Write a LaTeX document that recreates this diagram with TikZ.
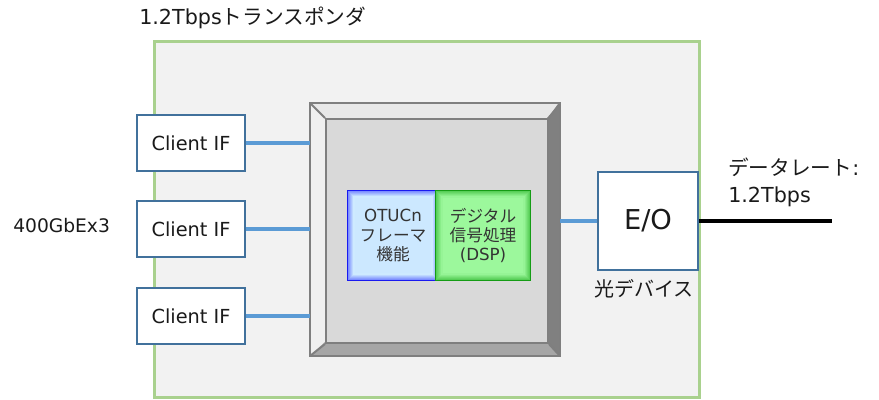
\documentclass[tikz,border=0pt]{standalone}
\usepackage{fontspec}
\setmainfont{DejaVu Sans}
\newfontfamily\jp{Noto Sans CJK JP}
\usetikzlibrary{calc}
\definecolor{frameGreen}{HTML}{A9D18E}
\definecolor{frameFill}{HTML}{F2F2F2}
\definecolor{ifBlue}{HTML}{41719C}
\definecolor{linkBlue}{HTML}{5B9BD5}
\definecolor{chipEdge}{HTML}{7F7F7F}
\definecolor{framerFill}{HTML}{CCE8FF}
\definecolor{framerEdge}{HTML}{1A1AF0}
\definecolor{dspFill}{HTML}{9CF89C}
\definecolor{dspEdge}{HTML}{159C15}
\definecolor{inkGrey}{HTML}{1A1A1A}

\begin{document}
\begin{tikzpicture}[x=0.75pt, y=-0.75pt, every node/.style={font=\fontsize{14.5}{17}\selectfont, text=inkGrey, inner sep=0pt}]
  \useasboundingbox (0,0) rectangle (879,400);
  \tikzset{
    ifbox/.style={draw=ifBlue, line width=2pt, fill=white, minimum width=81pt, minimum height=42pt},
    link/.style={draw=linkBlue, line width=2.5pt},
    bevel/.style={draw=chipEdge, line width=1.5pt, line join=miter},
    funcbox/.style={line width=1.5pt, minimum height=66.75pt, align=center, text=black!80, font=\fontsize{12.5}{14.6}\selectfont},
  }
  % transponder frame
  \node[draw=frameGreen, line width=2pt, fill=frameFill, minimum width=409pt, minimum height=267pt, anchor=north west] (xpdr) at (153,40) {};
  \node[anchor=west, font=\fontsize{15.5}{18}\selectfont] (xpdrTitle) at (139,18) {1.2Tbps{\jp トランスポンダ}};
  \node[anchor=west, font=\fontsize{14}{16}\selectfont] (clientRate) at (13,226) {400GbEx3};
  % client interfaces
  \node[ifbox] (clientA) at (191,143) {Client IF};
  \node[ifbox] (clientB) at (191,229) {Client IF};
  \node[ifbox] (clientC) at (191,316) {Client IF};
  % chip with bevel
  \coordinate (chipNW) at (310,103);
  \coordinate (chipSE) at (560,356);
  \fill[black!9] (310,103) -- (560,103) -- (547,118) -- (325,118) -- cycle;
  \fill[black!6] (310,103) -- (325,118) -- (325,342) -- (310,356) -- cycle;
  \fill[black!50] (560,103) -- (560,356) -- (547,342) -- (547,118) -- cycle;
  \fill[black!35] (310,356) -- (560,356) -- (547,342) -- (325,342) -- cycle;
  \node[bevel, fill=black!15, minimum width=166.5pt, minimum height=168pt, anchor=north west] (chipFace) at (325,118) {};
  \draw[bevel] (chipNW) rectangle (chipSE);
  \draw[bevel] (chipNW) -- (chipFace.north west);
  \draw[bevel] (560,103) -- (chipFace.north east);
  \draw[bevel] (310,356) -- (chipFace.south west);
  \draw[bevel] (560,356) -- (chipFace.south east);
  % functions inside the chip (soft inner glow at the edges)
  \node[funcbox, draw=framerEdge, fill=framerFill, minimum width=67.5pt] (framer) at (393,235.5) {OTUCn\\{\jp フレーマ}\\{\jp 機能}};
  \foreach \d in {2,...,7} {
    \pgfmathsetmacro\mix{55-8*\d}
    \draw[blue!\mix!framerFill, line width=0.8pt] ($(framer.north west)+(\d,\d)$) rectangle ($(framer.south east)+(-\d,-\d)$);
  }
  \node[funcbox, draw=dspEdge, fill=dspFill, minimum width=70.5pt] (dsp) at (483,235.5) {{\jp デジタル}\\{\jp 信号処理}\\(DSP)};
  \foreach \d in {2,...,7} {
    \pgfmathsetmacro\mix{60-8*\d}
    \draw[green!60!black!\mix!dspFill, line width=0.8pt] ($(dsp.north west)+(\d,\d)$) rectangle ($(dsp.south east)+(-\d,-\d)$);
  }
  % electro-optical device
  \node[draw=ifBlue, line width=2pt, fill=white, minimum width=75pt, minimum height=73.5pt, font=\fontsize{20.5}{23}\selectfont] (eo) at (648,221) {E/O};
  \node[anchor=north, font=\jp\fontsize{15}{17}\selectfont] (eoLabel) at ($(eo.south)+(-4,8)$) {光デバイス};
  \coordinate (lineEnd) at (832,221);
  \node[anchor=north west, align=left, font=\fontsize{15.5}{20}\selectfont] (lineRate) at (728,158) {{\jp データレート}:\\1.2Tbps};
  % links
  \draw[link] (clientA.east) -- (clientA.east -| chipNW);
  \draw[link] (clientB.east) -- (clientB.east -| chipNW);
  \draw[link] (clientC.east) -- (clientC.east -| chipNW);
  \draw[link] (eo.west -| chipSE) -- (eo.west);
  \draw[line width=3.2pt] (eo.east) -- (lineEnd);
\end{tikzpicture}
\end{document}
